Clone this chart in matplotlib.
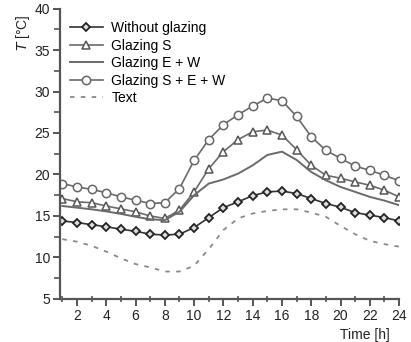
import numpy as np
import matplotlib.pyplot as plt
from matplotlib.ticker import MultipleLocator

plt.rcParams['font.family'] = ['Liberation Sans', 'DejaVu Sans']

hours = list(range(1, 25))

# temperatures [°C]
without_glazing = [14.4, 14.2, 13.95, 13.7, 13.4, 13.15, 12.8, 12.7, 12.8, 13.6, 14.8, 16.0,
                   16.7, 17.45, 17.9, 18.0, 17.7, 17.1, 16.5, 16.05, 15.4, 15.1, 14.8, 14.4]
glazing_s = [17.1, 16.7, 16.6, 16.2, 15.85, 15.5, 15.0, 14.7, 15.7, 17.9, 20.7, 22.75,
             24.2, 25.15, 25.35, 24.75, 23.0, 21.1, 19.9, 19.55, 19.1, 18.7, 18.1, 17.3]
glazing_ew = [16.2, 16.0, 15.8, 15.55, 15.25, 14.9, 14.6, 14.5, 15.5, 17.5, 18.9, 19.4,
              20.1, 21.1, 22.35, 22.75, 21.75, 20.3, 19.3, 18.5, 17.9, 17.3, 16.85, 16.3]
glazing_sew = [18.9, 18.5, 18.2, 17.8, 17.3, 16.9, 16.5, 16.6, 18.3, 21.7, 24.2, 26.0,
               27.2, 28.25, 29.2, 28.9, 27.0, 24.55, 22.9, 21.95, 21.0, 20.5, 19.9, 19.25]
t_ext = [12.2, 11.9, 11.4, 10.7, 9.9, 9.2, 8.8, 8.3, 8.3, 9.0, 11.0, 13.3,
         14.7, 15.3, 15.6, 15.8, 15.8, 15.4, 14.9, 13.8, 12.8, 12.0, 11.6, 11.3]

line_col = '#6a6a6a'

fig = plt.figure(figsize=(4.11, 3.42), dpi=100)
ax = fig.add_axes([0.146, 0.126, 0.825, 0.849])

ax.plot(hours, without_glazing, color='#333333', lw=1.2, marker='D', ms=4.2,
        mfc='#dddddd', mec='#222222', mew=1.3, label='Without glazing')
ax.plot(hours, glazing_s, color=line_col, lw=1.2, marker='^', ms=5.8,
        mfc='white', mec='#555555', mew=1.1, label='Glazing S')
ax.plot(hours, glazing_ew, color=line_col, lw=1.4, label='Glazing E + W')
ax.plot(hours, glazing_sew, color=line_col, lw=1.2, marker='o', ms=6,
        mfc='white', mec='#666666', mew=1.1, label='Glazing S + E + W')
ax.plot(hours, t_ext, color='#8a8a8a', lw=1.3, ls=(0, (2.5, 3.5)), label='Text')

ax.set_xlim(0.84, 24)
ax.set_ylim(5, 40)
ax.xaxis.set_major_locator(MultipleLocator(2))
ax.xaxis.set_minor_locator(MultipleLocator(1))
ax.yaxis.set_major_locator(MultipleLocator(5))
ax.yaxis.set_minor_locator(MultipleLocator(2.5))

for s in ['top', 'right']:
    ax.spines[s].set_visible(False)
for s in ['left', 'bottom']:
    ax.spines[s].set_color('#555555')
    ax.spines[s].set_linewidth(1.6)

ax.tick_params(which='major', direction='out', length=5, width=1.4, color='#555555',
               labelsize=10, labelcolor='#222222', pad=2)
ax.tick_params(axis='x', which='minor', direction='inout', length=5, width=1.2, color='#555555')
ax.tick_params(axis='y', which='minor', direction='out', length=4, width=1.2, color='#555555')
ax.set_xticks(range(2, 25, 2))

ax.set_xlabel('Time [h]', fontsize=10, color='#222222')
ax.xaxis.set_label_coords(0.9, -0.1)
fig.text(0.055, 0.905, r'$T$ [°C]', rotation=90, fontsize=10, color='#222222',
         ha='center', va='center')

ax.legend(loc='upper left', bbox_to_anchor=(0.0, 0.99), frameon=False, fontsize=10,
          handlelength=2.4, handletextpad=0.6, labelspacing=0.25, borderaxespad=0.3)

fig.savefig('out.png', dpi=100)
